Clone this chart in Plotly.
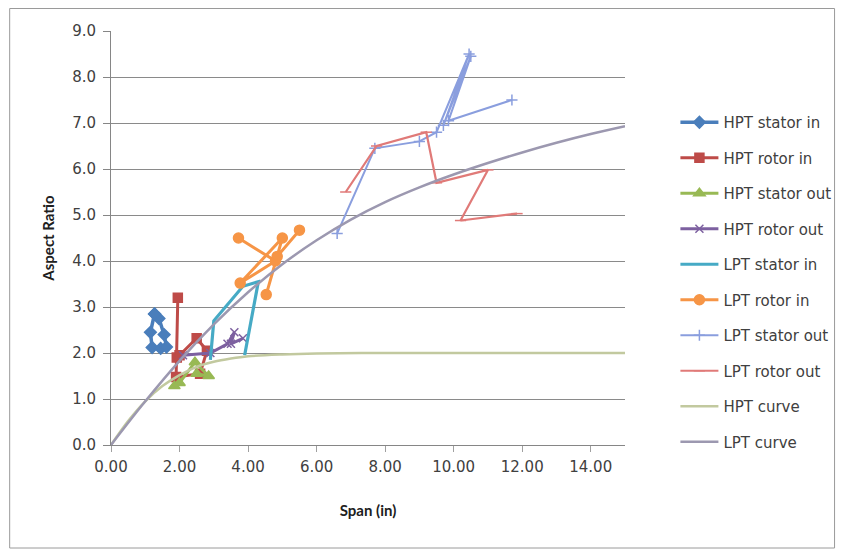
import plotly.graph_objects as go

# ---- data ----
hpt_stator_in_x = [1.27, 1.15, 1.20, 1.45, 1.62, 1.55, 1.40, 1.27]
hpt_stator_in_y = [2.85, 2.45, 2.12, 2.10, 2.13, 2.40, 2.75, 2.85]

hpt_rotor_in_x = [1.95, 1.92, 1.90, 2.60, 2.80, 2.50, 2.00]
hpt_rotor_in_y = [3.20, 1.90, 1.48, 1.55, 2.05, 2.32, 1.95]

hpt_stator_out_x = [1.85, 2.00, 2.45, 2.85, 2.50]
hpt_stator_out_y = [1.28, 1.35, 1.80, 1.50, 1.55]

hpt_rotor_out_x = [2.10, 2.90, 3.40, 3.60, 3.50, 3.85]
hpt_rotor_out_y = [1.95, 2.00, 2.20, 2.45, 2.20, 2.32]

lpt_stator_in_x = [2.90, 3.00, 3.85, 4.30, 3.90]
lpt_stator_in_y = [1.85, 2.70, 3.45, 3.55, 1.95]

lpt_rotor_in_x = [3.72, 4.80, 3.77, 5.00, 4.53, 4.85, 5.50]
lpt_rotor_in_y = [4.50, 4.00, 3.52, 4.50, 3.27, 4.10, 4.67]

lpt_stator_out_x = [6.60, 7.70, 9.00, 9.50, 10.45, 9.70, 10.50, 9.85, 11.70]
lpt_stator_out_y = [4.60, 6.45, 6.60, 6.80, 8.50, 6.95, 8.45, 7.05, 7.50]

lpt_rotor_out_x = [6.85, 7.75, 9.20, 9.50, 11.00, 10.20, 11.85]
lpt_rotor_out_y = [5.50, 6.50, 6.80, 5.70, 5.98, 4.88, 5.03]

hpt_curve_x = [0, 0.5, 1.0, 1.5, 2.0, 2.5, 3.0, 3.5, 4.0, 5.0, 6.0, 8.0, 10.0, 12.0, 15.0]
hpt_curve_y = [0, 0.52, 0.95, 1.28, 1.52, 1.70, 1.81, 1.88, 1.93, 1.97, 1.99, 2.0, 2.0, 2.0, 2.0]

lpt_curve_x = [0, 1, 2, 3, 4, 5, 6, 7, 8, 9, 10, 11, 12, 13, 14, 15]
lpt_curve_y = [0, 0.95, 1.83, 2.62, 3.32, 3.93, 4.45, 4.90, 5.28, 5.60, 5.88, 6.13, 6.36, 6.57, 6.76, 6.93]

x_ticks = [0, 2, 4, 6, 8, 10, 12, 14]
y_ticks = [0, 1, 2, 3, 4, 5, 6, 7, 8, 9]

series = [
    ("HPT stator in", hpt_stator_in_x, hpt_stator_in_y, "#4a7ebb", 3.5, "diamond", 9),
    ("HPT rotor in", hpt_rotor_in_x, hpt_rotor_in_y, "#be4b48", 3, "square", 9),
    ("HPT stator out", hpt_stator_out_x, hpt_stator_out_y, "#98b954", 3, "triangle-up", 10),
    ("HPT rotor out", hpt_rotor_out_x, hpt_rotor_out_y, "#7d60a0", 3, "x-thin-open", 8),
    ("LPT stator in", lpt_stator_in_x, lpt_stator_in_y, "#46aac5", 3.2, None, 0),
    ("LPT rotor in", lpt_rotor_in_x, lpt_rotor_in_y, "#f69546", 3, "circle", 10),
    ("LPT stator out", lpt_stator_out_x, lpt_stator_out_y, "#8a9ede", 2, "cross-thin-open", 8),
    ("LPT rotor out", lpt_rotor_out_x, lpt_rotor_out_y, "#e07a78", 2.2, "line-ew-open", 8),
]

fig = go.Figure()
for i, (name, xs, ys, col, w, sym, sz) in enumerate(series):
    if sym:
        fig.add_trace(go.Scatter(
            x=xs, y=ys, name=name, mode="lines+markers", legendgroup=f"g{i}",
            line=dict(color=col, width=w),
            marker=dict(symbol=sym, size=sz, color=col, line=dict(color=col, width=1.5)),
        ))
    else:
        fig.add_trace(go.Scatter(
            x=xs, y=ys, name=name, mode="lines", legendgroup=f"g{i}",
            line=dict(color=col, width=w),
        ))

fig.add_trace(go.Scatter(x=hpt_curve_x, y=hpt_curve_y, name="HPT curve", mode="lines",
                         legendgroup="g8", line=dict(color="#c2c99f", width=2.5, shape="spline")))
fig.add_trace(go.Scatter(x=lpt_curve_x, y=lpt_curve_y, name="LPT curve", mode="lines",
                         legendgroup="g9", line=dict(color="#9c98b0", width=2.5, shape="spline")))

# figure-pixel layout (page adds an 8px body margin)
W, H = 840, 547
L, R, T, B = 103, 623, 23, 437
pw, ph = R - L, B - T

def px(xp):
    return (xp - L) / pw

def py(yp):
    return (B - yp) / ph

FONT = "'DejaVu Sans', Verdana, sans-serif"

fig.update_layout(
    width=W, height=H,
    margin=dict(l=L, r=W - R, t=T, b=H - B),
    paper_bgcolor="white", plot_bgcolor="white",
    font=dict(family=FONT, size=15, color="#404040"),
    showlegend=True,
    legend=dict(x=px(674), y=py(98), xanchor="left", yanchor="top",
                traceorder="grouped", tracegroupgap=13,
                font=dict(family=FONT, size=15, color="#404040"), bgcolor="rgba(0,0,0,0)",
                itemwidth=38),
    xaxis=dict(range=[0, 15], tickvals=x_ticks, tickformat=".2f",
               showgrid=False, zeroline=False, showline=True, linecolor="#868686",
               linewidth=1, ticks="outside", ticklen=6, tickcolor="#a0a0a0",
               ticklabelstandoff=2,
               title=dict(text="<b>Span (in)</b>", font=dict(family="Lato, sans-serif", size=15, color="#202020"), standoff=30),
               tickfont=dict(family=FONT, size=15, color="#404040")),
    yaxis=dict(range=[0, 9], tickvals=y_ticks, tickformat=".1f",
               showgrid=True, gridcolor="#8a8a8a", gridwidth=1, zeroline=False,
               showline=True, linecolor="#868686", linewidth=1,
               ticks="outside", ticklen=7, tickcolor="#868686",
               ticklabelstandoff=4,
               title=dict(text="<b>Aspect Ratio</b>", font=dict(family="Lato, sans-serif", size=15, color="#202020"), standoff=13),
               tickfont=dict(family=FONT, size=15, color="#404040")),
    shapes=[dict(type="rect", xref="paper", yref="paper",
                 x0=px(0.5), x1=px(835), y0=py(540), y1=py(0.5),
                 line=dict(color="#9a9a9a", width=1), fillcolor="rgba(0,0,0,0)", layer="below")],
)

fig.write_html("out.html")
